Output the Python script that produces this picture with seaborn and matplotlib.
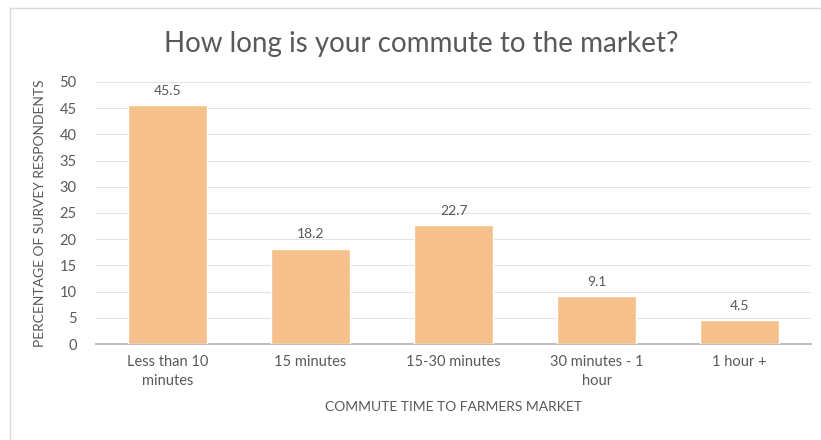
import pandas as pd
import seaborn as sns
import matplotlib.pyplot as plt
from matplotlib.patches import Rectangle

# data
categories = ["Less than 10\nminutes", "15 minutes", "15-30 minutes", "30 minutes - 1\nhour", "1 hour +"]
percentages = [45.5, 18.2, 22.7, 9.1, 4.5]
yticks = list(range(0, 55, 5))

df = pd.DataFrame({"commute": categories, "pct": percentages})

sns.set_theme(style="white")
plt.rcParams['font.family'] = ['Lato', 'DejaVu Sans']
grey = '#595959'

fig = plt.figure(figsize=(8.21, 4.4), dpi=100)
ax = fig.add_axes([0.117, 0.218, 0.871, 0.596])

sns.barplot(data=df, x="commute", y="pct", color='#F6C08C', width=0.55,
            saturation=1, ax=ax, zorder=3)

for i, v in enumerate(percentages):
    ax.text(i, v + 1.6, f"{v}", ha='center', va='bottom', fontsize=10, color=grey)

ax.set_ylim(0, 50)
ax.set_xlim(-0.5, len(categories) - 0.5)
ax.set_yticks(yticks)
ax.yaxis.grid(True, color='#E3E3E3', linewidth=0.8, zorder=0)
ax.set_axisbelow(True)
for s in ['top', 'right', 'left']:
    ax.spines[s].set_visible(False)
ax.spines['bottom'].set_color('#BFBFBF')
ax.spines['bottom'].set_linewidth(1.5)
ax.tick_params(axis='both', length=0, labelsize=10.5, colors=grey)
ax.tick_params(axis='y', pad=14)
ax.tick_params(axis='x', pad=8)
for lbl in ax.get_xticklabels():
    lbl.set_linespacing(1.45)

ax.set_xlabel("COMMUTE TIME TO FARMERS MARKET", fontsize=10, color=grey, labelpad=9)
ax.set_ylabel("PERCENTAGE OF SURVEY RESPONDENTS", fontsize=10, color=grey, labelpad=10)
fig.text(0.513, 0.90, "How long is your commute to the market?", ha='center', va='center',
         fontsize=20, color=grey)

fig.patches.append(Rectangle((10 / 821, -0.01), 1.0, 1 - 8 / 440 + 0.01, transform=fig.transFigure,
                             fill=False, edgecolor='#D9D9D9', linewidth=1))

fig.savefig("out.png", dpi=100)
